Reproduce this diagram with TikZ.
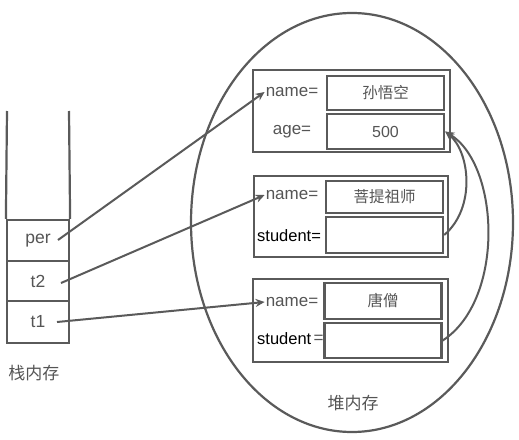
\documentclass[tikz,border=0pt]{standalone}
\usepackage{fontspec}
\setmainfont{Liberation Sans}
\newfontfamily\cjk{Noto Sans CJK SC}
\usetikzlibrary{arrows.meta,shapes.geometric}
\definecolor{ln}{HTML}{5A5A5A}
\definecolor{tx}{HTML}{555555}
\tikzset{
  cell/.style={draw=ln,line width=2.2pt,minimum width=62pt,inner sep=0pt,text=tx,font=\fontsize{17.5}{17.5}\selectfont},
  obj/.style={draw=ln,line width=2.4pt,inner sep=0pt},
  val/.style={draw=ln,line width=2.4pt,inner sep=0pt,minimum width=117pt,text=tx,font=\cjk\fontsize{15.5}{15.5}\selectfont},
  lab/.style={inner sep=1pt,text=tx,font=\fontsize{17}{17}\selectfont},
  blab/.style={inner sep=1pt,text=black,font=\fontsize{16.5}{16.5}\selectfont},
  arr/.style={draw=ln,line width=2pt,-{Stealth[length=9pt,width=8pt]}},
  memlabel/.style={text=tx,font=\cjk\fontsize{17}{17}\selectfont}
}
\begin{document}
\begin{tikzpicture}[x=1pt,y=-1pt]
\useasboundingbox[fill=white] (0,0) rectangle (519,439);
% heap ellipse
\node[draw=ln,line width=2.2pt,ellipse,minimum width=322pt,minimum height=419pt,inner sep=0pt] (heap) at (352,222.5) {};
\node[memlabel] (heapL) at (353,403) {堆内存};
% stack
\coordinate (stTL) at (7,111);
\coordinate (stTR) at (69,111);
\node[cell,minimum height=41pt] (per) at (38,240.5) {per};
\node[cell,minimum height=40pt] (t2) at (38,281) {t2};
\node[cell,minimum height=42pt] (t1) at (38,322) {t1};
\draw[ln,line width=2.2pt] (stTL) -- (per.north west);
\draw[ln,line width=2.2pt] (stTR) -- (per.north east);
\node[memlabel] (stackL) at (34,373) {栈内存};
% object 1
\node[obj,minimum width=197pt,minimum height=82pt] (o1) at (351.5,111) {};
\node[val,minimum height=34pt] (o1n) at (385.5,93) {孙悟空};
\node[val,minimum height=35pt,font=\fontsize{16}{16}\selectfont] (o1a) at (385.5,131.5) {500};
\node[lab] (l1n) at (292,92) {name=};
\node[lab] (l1a) at (292,132) {age=};
% object 2
\node[obj,minimum width=194pt,minimum height=81pt] (o2) at (351,216.5) {};
\node[val,minimum height=32pt] (o2n) at (384.5,197) {菩提祖师};
\node[val,minimum height=36pt] (o2s) at (384.5,235) {};
\node[lab] (l2n) at (292,195) {name=};
\node[blab,anchor=west] (l2s) at (256,236) {student=};
% object 3
\node[obj,minimum width=195pt,minimum height=83pt] (o3) at (350.5,320.5) {};
\node[val,minimum height=36pt] (o3n) at (383,301) {唐僧};
\node[val,minimum height=35pt] (o3s) at (383,340.5) {};
\node[lab] (l3n) at (292,302) {name=};
\node[blab,anchor=west] (l3s) at (256,339) {student};
\node[lab,anchor=west] (l3e) at (l3s.east) {=};
% stack -> heap arrows
\coordinate (perS) at (58,240);
\coordinate (t2S) at (61,283);
\coordinate (t1S) at (57,322);
\draw[arr] (perS) -- (l1n.west);
\draw[arr] (t2S) -- (l2n.west);
\draw[arr] (t1S) -- (l3n.west);
% student references
\draw[arr] (o2s.east) .. controls (476,208) and (470,152) .. (o1a.east);
\draw[arr] (o3s.east) .. controls (505,300) and (500,165) .. (o1a.east);
\end{tikzpicture}
\end{document}
